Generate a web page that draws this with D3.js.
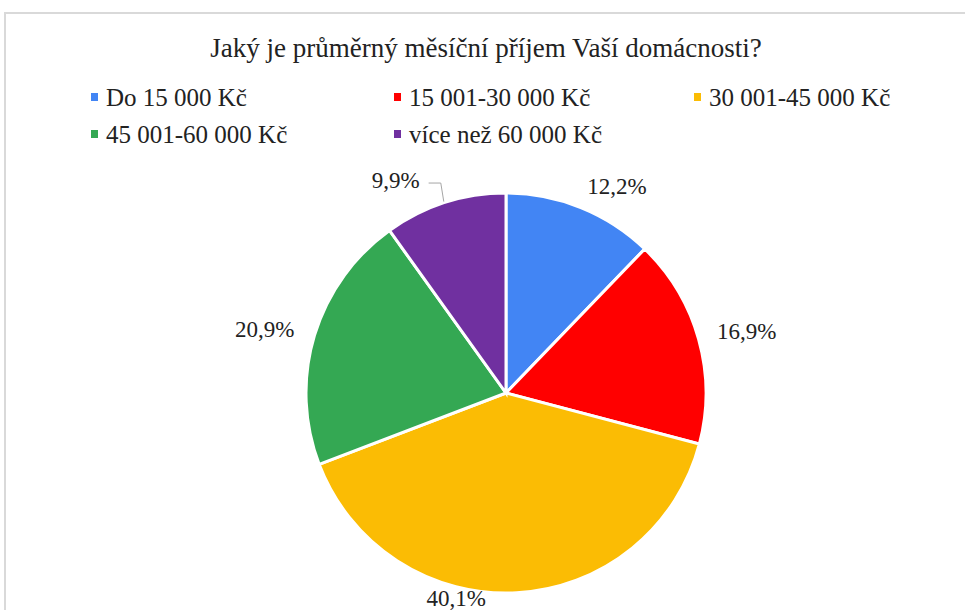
<!DOCTYPE html>
<html>
<head>
<meta charset="utf-8">
<script src="https://cdn.jsdelivr.net/npm/d3@7"></script>
<style>
  body { margin: 0; background: #fff; }
</style>
</head>
<body>
<div id="chart"></div>
<script>
// data
const categories = ['Do 15 000 Kč', '15 001-30 000 Kč', '30 001-45 000 Kč', '45 001-60 000 Kč', 'více než 60 000 Kč']
const values = [12.2, 16.9, 40.1, 20.9, 9.9]
const labels = ['12,2%', '16,9%', '40,1%', '20,9%', '9,9%']
const colors = ['#4285f4', '#ff0000', '#fbbc04', '#34a853', '#7030a0']

const chart = { width: 965, height: 610 }
const center = { x: 506, y: 393 }
const radius = 200
const serif = '"Liberation Serif", "Times New Roman", serif'

const svg = d3.select('#chart')
  .append('svg')
  .attr('width', chart.width)
  .attr('height', chart.height)
  .style('font-family', serif)

// frame
svg.append('path')
  .attr('d', `M5,${chart.height} L5,13 L${chart.width},13`)
  .attr('fill', 'none')
  .attr('stroke', '#d9d9d9')
  .attr('stroke-width', 2)

svg.append('text')
  .attr('x', 486)
  .attr('y', 57)
  .attr('text-anchor', 'middle')
  .attr('font-size', '27px')
  .attr('fill', '#222')
  .style('font-family', serif)
  .text('Jaký je průměrný měsíční příjem Vaší domácnosti?')

// legend
const legendPos = [[91, 106], [394, 106], [694, 106], [91, 143], [394, 143]]
const legend = svg.append('g')
  .selectAll('g')
  .data(categories)
  .join('g')
  .attr('transform', (d, i) => `translate(${legendPos[i][0]}, ${legendPos[i][1]})`)

legend.append('rect')
  .attr('x', 0).attr('y', -13)
  .attr('width', 7).attr('height', 8)
  .attr('fill', (d, i) => colors[i])

legend.append('text')
  .attr('x', 15)
  .attr('y', 0)
  .attr('font-size', '25px')
  .attr('fill', '#222')
  .style('font-family', serif)
  .text(d => d)

// pie
const pie = d3.pie().sort(null).value(d => d)
const arcs = pie(values)
const arc = d3.arc().innerRadius(0).outerRadius(radius)

const base = svg.append('g')
  .attr('transform', `translate(${center.x}, ${center.y})`)

base.selectAll('path')
  .data(arcs)
  .join('path')
  .attr('d', arc)
  .attr('fill', (d, i) => colors[i])
  .attr('stroke', '#fff')
  .attr('stroke-width', 3)

// data labels (radius + nudge, like excel's best fit)
const labelPos = [
  { r: 235, dx: 23, dy: 11 },
  { r: 250, dx: 0, dy: 6 },
  { r: 210, dx: -61, dy: -4 },
  { r: 250, dx: -2, dy: 8 },
  { r: 230, dx: -40, dy: 6 }
]
const labelXY = (d, i) => {
  const c = d3.arc().innerRadius(labelPos[i].r).outerRadius(labelPos[i].r).centroid(d)
  return [c[0] + labelPos[i].dx, c[1] + labelPos[i].dy]
}

base.selectAll('text.lbl')
  .data(arcs)
  .join('text')
  .attr('class', 'lbl')
  .attr('x', (d, i) => labelXY(d, i)[0])
  .attr('y', (d, i) => labelXY(d, i)[1])
  .attr('dy', '0.33em')
  .attr('text-anchor', 'middle')
  .attr('font-size', '23px')
  .attr('fill', '#222')
  .style('font-family', serif)
  .text((d, i) => labels[i])

// leader line for the small purple slice
const last = arcs[4]
const edge = arc.centroid(last).map(v => v * 2 - 1)
const lp = labelXY(last, 4)
base.append('polyline')
  .attr('points', [[lp[0] + 33, lp[1] + 3], [edge[0] - 3, lp[1] + 3], edge].map(p => p.join(',')).join(' '))
  .attr('fill', 'none')
  .attr('stroke', '#a6a6a6')
  .attr('stroke-width', 1)
</script>
</body>
</html>
